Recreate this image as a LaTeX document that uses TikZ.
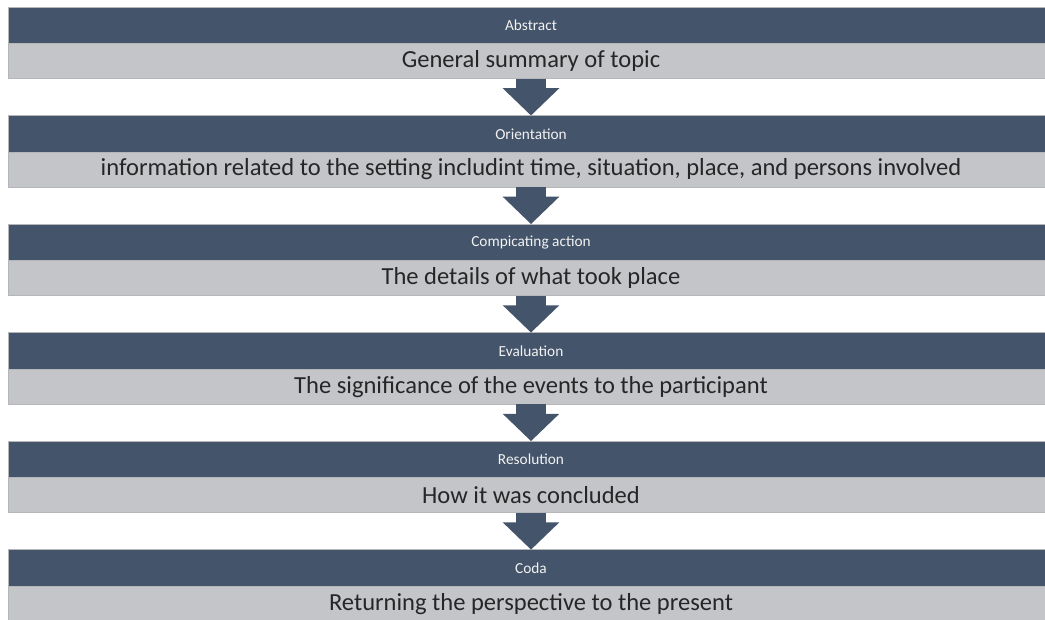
\documentclass[tikz,border=0pt]{standalone}
\usepackage{fontspec}
\setmainfont{Carlito}
\usetikzlibrary{arrows.meta, positioning}

\definecolor{headblue}{HTML}{44546A}
\definecolor{bodygray}{HTML}{C3C5C9}
\definecolor{edgegray}{HTML}{B4B6BA}

\begin{document}
\begin{tikzpicture}[
x=0.75pt, y=-0.75pt,
node distance=27.75pt,
head/.style={draw=edgegray, line width=0.6pt, fill=headblue, rectangle, minimum width=784.5pt, minimum height=27.4pt, inner sep=0pt, outer sep=0pt, text=white!90!gray, font=\fontsize{11.5}{13}\selectfont},
body/.style={draw=edgegray, line width=0.6pt, fill=bodygray, rectangle, minimum width=784.5pt, minimum height=26.25pt, inner sep=0pt, outer sep=0pt, text=black!85, font=\fontsize{18.4}{21}\selectfont},
flow/.style={headblue, line width=22.5pt, -{Triangle[width=41.25pt, length=20.5pt]}}
]
\clip (0,0) rectangle (1045,620);

% Abstract
\node[head, anchor=north] (abs) at (531,7) {Abstract};
\node[body, below=0pt of abs] (absb) {General summary of topic};

% Orientation
\node[head, below=of absb] (ori) {Orientation};
\node[body, below=0pt of ori] (orib) {information related to the setting includint time, situation, place, and persons involved};

% Complicating action
\node[head, below=of orib] (comp) {Compicating action};
\node[body, below=0pt of comp] (compb) {The details of what took place};

% Evaluation
\node[head, below=of compb] (eval) {Evaluation};
\node[body, below=0pt of eval] (evalb) {The significance of the events to the participant};

% Resolution
\node[head, below=of evalb] (res) {Resolution};
\node[body, below=0pt of res] (resb) {How it was concluded};

% Coda
\node[head, below=of resb] (coda) {Coda};
\node[body, below=0pt of coda] (codab) {Returning the perspective to the present};

% Arrows
\draw[flow] (absb.south) -- (ori.north);
\draw[flow] (orib.south) -- (comp.north);
\draw[flow] (compb.south) -- (eval.north);
\draw[flow] (evalb.south) -- (res.north);
\draw[flow] (resb.south) -- (coda.north);

\end{tikzpicture}
\end{document}
